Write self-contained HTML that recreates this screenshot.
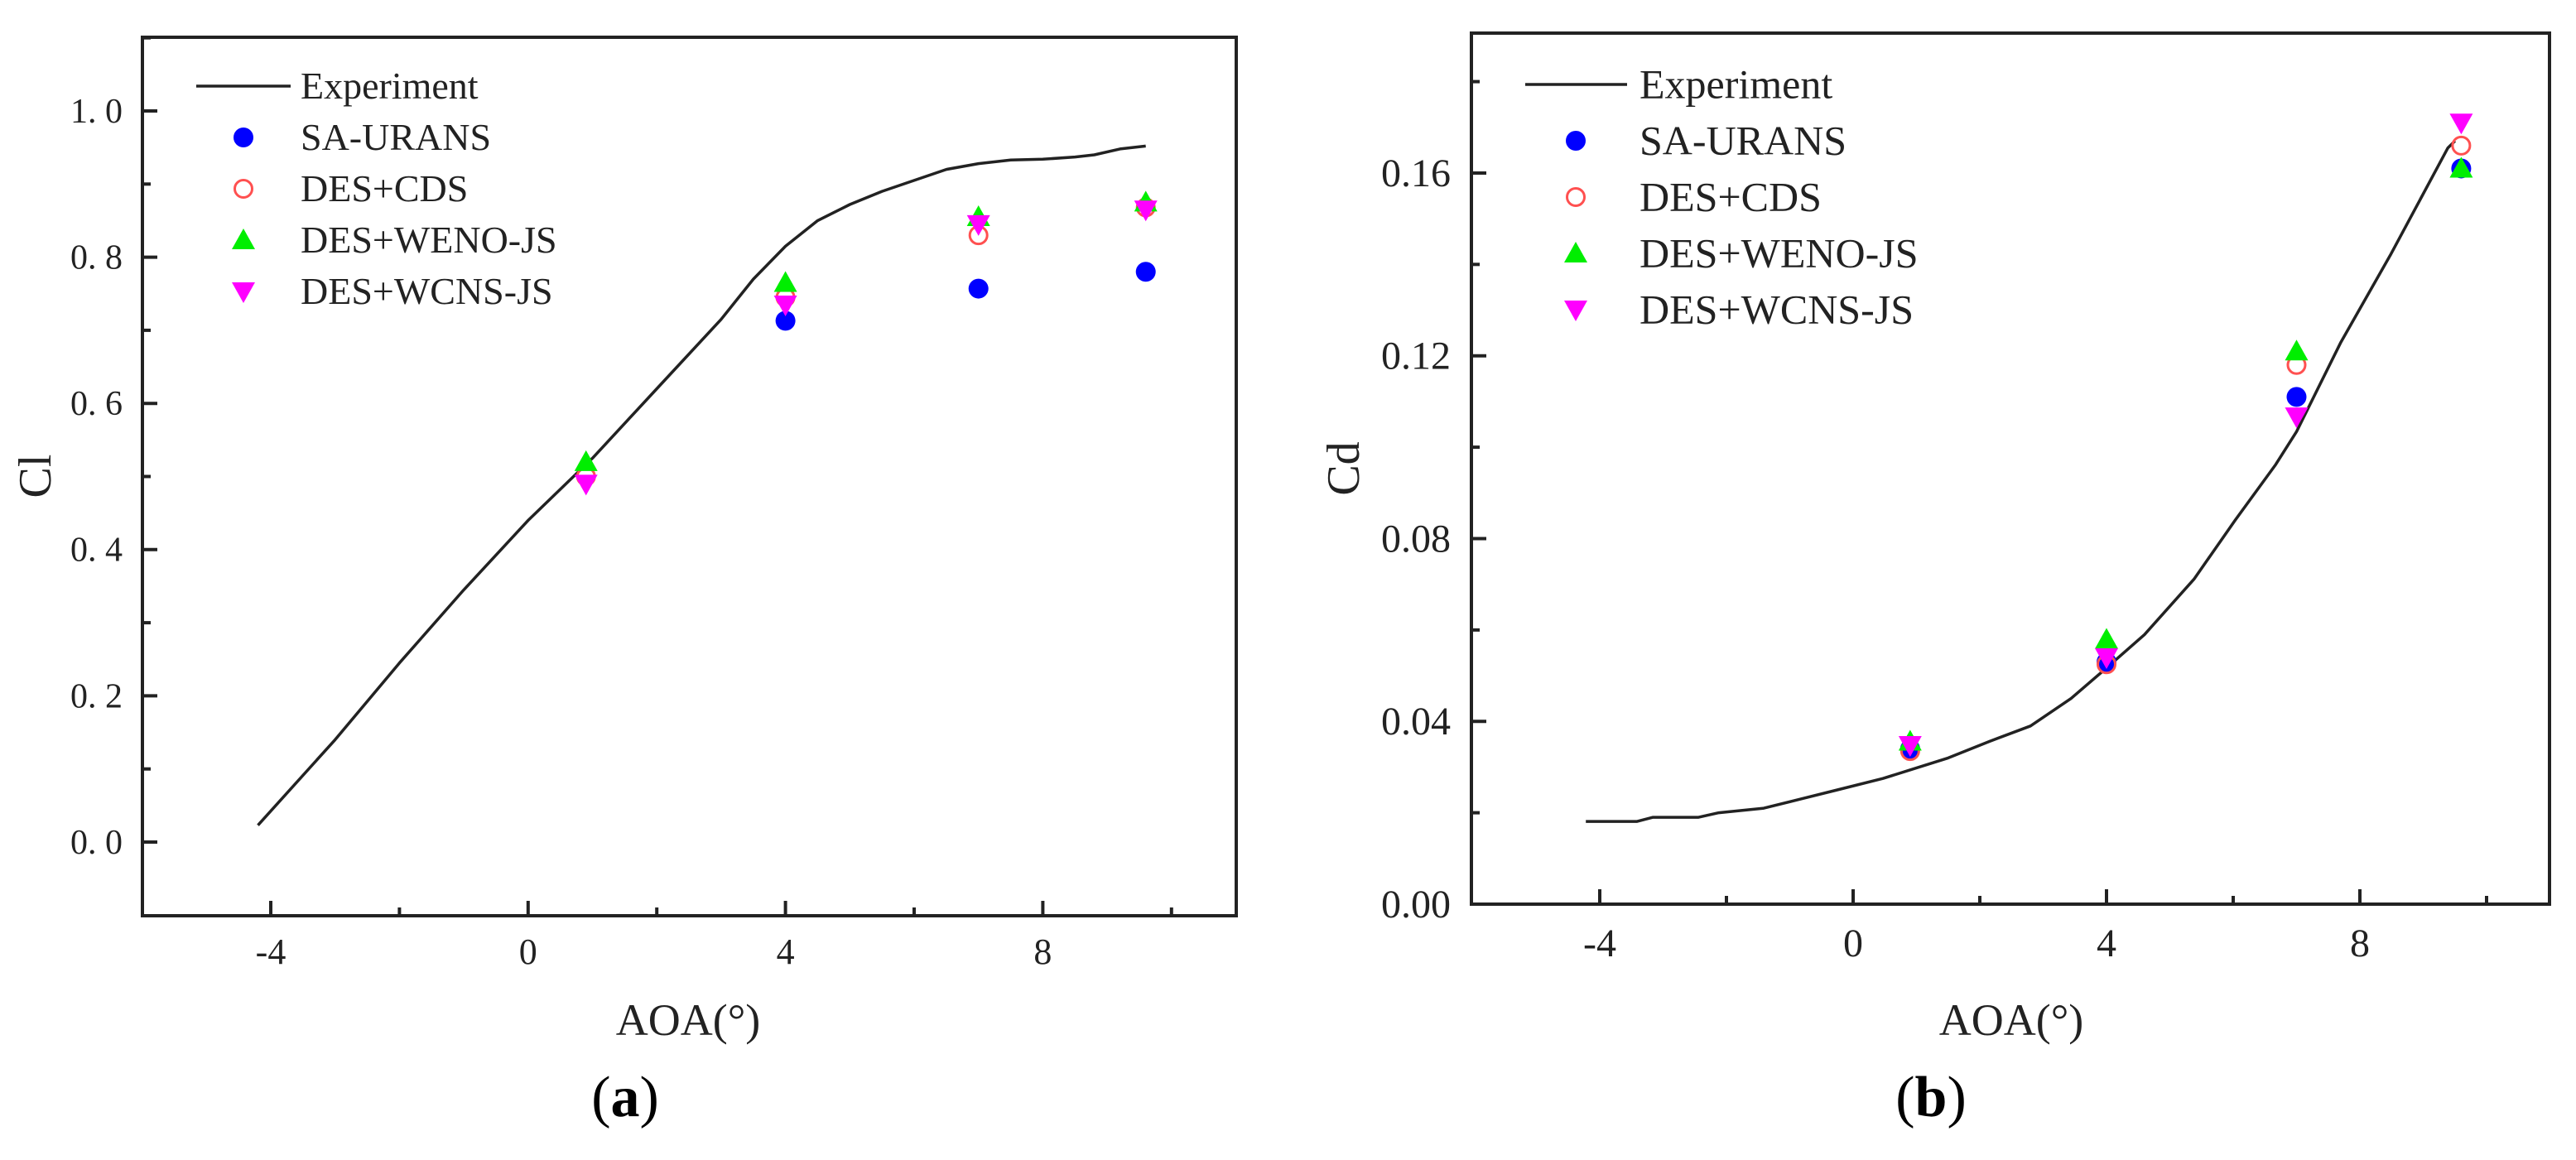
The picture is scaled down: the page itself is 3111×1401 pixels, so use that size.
<!DOCTYPE html>
<html><head><meta charset="utf-8">
<style>
html,body{margin:0;padding:0;background:#fff;}
svg{display:block;font-family:"Liberation Serif","DejaVu Serif",serif;}
</style></head>
<body>
<svg id="fig" width="3111" height="1401" viewBox="0 0 3111 1401" xmlns="http://www.w3.org/2000/svg">
<rect width="3111" height="1401" fill="#fff"/>
<g id="chartA"></g>
<g id="chartB"></g>
</svg>
<script>
// ---- Chart (a): Cl data ----
const clExpAoa = [-4.2,-3,-2,-1,0,1,2,3,3.5,4,4.5,5,5.5,6,6.5,7,7.5,8,8.5,8.8,9.2,9.6];
const clExpVal = [0.023,0.14,0.245,0.345,0.44,0.525,0.62,0.715,0.77,0.815,0.85,0.872,0.89,0.905,0.92,0.928,0.933,0.934,0.937,0.94,0.948,0.952];
const clSaAoa = [4,7,9.6];
const clSaVal = [0.713,0.757,0.78];
const clCdsAoa = [0.9,4,7,9.6];
const clCdsVal = [0.50,0.745,0.83,0.868];
const clWenoAoa = [0.9,4,7,9.6];
const clWenoVal = [0.52,0.765,0.855,0.875];
const clWcnsAoa = [0.9,4,7,9.6];
const clWcnsVal = [0.49,0.735,0.845,0.865];
const clYTicks = [0,0.2,0.4,0.6,0.8,1.0];
const clYLabels = ["0. 0","0. 2","0. 4","0. 6","0. 8","1. 0"];
const clXTicks = [-4,0,4,8];
const clXLabels = ["-4","0","4","8"];

// ---- Chart (b): Cd data ----
const cdExpAoa = [-4.22,-3.41,-3.16,-2.44,-2.12,-1.41,-0.83,-0.25,0.47,1.5,2.15,2.8,3.44,4.0,4.6,5.38,6.03,6.67,7.0,7.7,8.48,9.39,9.5];
const cdExpVal = [0.0181,0.0181,0.019,0.019,0.020,0.021,0.023,0.025,0.0275,0.032,0.0356,0.039,0.045,0.0517,0.059,0.0711,0.084,0.0962,0.1034,0.123,0.142,0.1655,0.167];
const cdSaAoa = [0.9,4,7,9.6];
const cdSaVal = [0.034,0.053,0.111,0.161];
const cdCdsAoa = [0.9,4,7,9.6];
const cdCdsVal = [0.0335,0.0525,0.118,0.166];
const cdWenoAoa = [0.9,4,7,9.6];
const cdWenoVal = [0.0356,0.0579,0.121,0.161];
const cdWcnsAoa = [0.9,4,7,9.6];
const cdWcnsVal = [0.0348,0.054,0.1067,0.171];
const cdYTicks = [0,0.04,0.08,0.12,0.16];
const cdYLabels = ["0.00","0.04","0.08","0.12","0.16"];
const cdXTicks = [-4,0,4,8];
const cdXLabels = ["-4","0","4","8"];

const NS="http://www.w3.org/2000/svg";
function mk(tag, attrs, parent){
  const e=document.createElementNS(NS,tag);
  for(const k in attrs) e.setAttribute(k,attrs[k]);
  parent.appendChild(e); return e;
}
function marker(g, type, cx, cy){
  let e;
  if(type==='sa'){ e=mk('circle',{cx:cx,cy:cy,r:12,fill:'#0000ff'},g); }
  else if(type==='cds'){ e=mk('circle',{cx:cx,cy:cy,r:10.5,fill:'none',stroke:'#ff5050','stroke-width':3},g); }
  else if(type==='weno'){ e=mk('polygon',{points:`${cx-14},${cy+11} ${cx+14},${cy+11} ${cx},${cy-14}`,fill:'#00ee00'},g); }
  else { e=mk('polygon',{points:`${cx-14},${cy-11} ${cx+14},${cy-11} ${cx},${cy+14}`,fill:'#ff00ff'},g); }
  return e;
}

function drawChart(g, cfg){
  const X=v=>cfg.x0+(v-cfg.xmin)*(cfg.x1-cfg.x0)/(cfg.xmax-cfg.xmin);
  const Y=v=>cfg.y0-(v-cfg.ymin)*(cfg.y0-cfg.y1)/(cfg.ymax-cfg.ymin);
  const fr=mk('rect',{x:cfg.x0,y:cfg.y1,width:cfg.x1-cfg.x0,height:cfg.y0-cfg.y1,fill:'none',stroke:'#222','stroke-width':4},g);
  
  
  cfg.yTicks.forEach((t,i)=>{
    const y=Y(t);
    const tk=mk('line',{x1:cfg.x0,x2:cfg.x0+18,y1:y,y2:y,stroke:'#222','stroke-width':4},g);
    
    
    const lb=mk('text',{x:cfg.yLabelX,y:y+cfg.yFont*0.33,'text-anchor':'end','font-size':cfg.yFont,fill:'#222'},g);
    lb.textContent=cfg.yLabels[i];
    
    
    const m=t+cfg.yStep/2;
    if(m<cfg.ymax){
      const ym=Y(m);
      const mt=mk('line',{x1:cfg.x0,x2:cfg.x0+10,y1:ym,y2:ym,stroke:'#222','stroke-width':4},g);
      
      
    }
  });
  cfg.xTicks.forEach((t,i)=>{
    const x=X(t);
    const tk=mk('line',{x1:x,x2:x,y1:cfg.y0,y2:cfg.y0-18,stroke:'#222','stroke-width':4},g);
    
    
    const lb=mk('text',{x:x,y:cfg.xLabelY,'text-anchor':'middle','font-size':cfg.xFont,fill:'#222'},g);
    lb.textContent=cfg.xLabels[i];
    
    
    const xm=X(t+2);
    if(t+2<cfg.xmax){
      const mt=mk('line',{x1:xm,x2:xm,y1:cfg.y0,y2:cfg.y0-10,stroke:'#222','stroke-width':4},g);
      
      
    }
  });
  const pts=cfg.expAoa.map((a,i)=>X(a).toFixed(1)+','+Y(cfg.expVal[i]).toFixed(1)).join(' ');
  const pl=mk('polyline',{points:pts,fill:'none',stroke:'#222','stroke-width':3.5,'stroke-linejoin':'round'},g);
  
  
  const series=[['sa',cfg.saAoa,cfg.saVal,'sa-urans-point'],['cds',cfg.cdsAoa,cfg.cdsVal,'des-cds-point'],['weno',cfg.wenoAoa,cfg.wenoVal,'des-weno-js-point'],['wcns',cfg.wcnsAoa,cfg.wcnsVal,'des-wcns-js-point']];
  series.forEach(s=>{
    s[1].forEach((a,i)=>{
      const e=marker(g,s[0],X(a),Y(s[2][i]));
      
      
    });
  });
  const L=cfg.leg;
  const ll=mk('line',{x1:L.lx0,x2:L.lx1,y1:L.y,y2:L.y,stroke:'#222','stroke-width':3.5},g);
  
  
  const names=['Experiment','SA-URANS','DES+CDS','DES+WENO-JS','DES+WCNS-JS'];
  const types=[null,'sa','cds','weno','wcns'];
  names.forEach((n,i)=>{
    const y=L.y+i*L.dy;
    if(types[i]){
      const m=marker(g,types[i],L.mx,y);
      
      
    }
    const t=mk('text',{x:L.tx,y:y+L.font*0.33,'font-size':L.font,fill:'#222'},g);
    t.textContent=n;
    
    
  });
  const xt=mk('text',{x:cfg.xTitleX,y:1250,'text-anchor':'middle','font-size':54,fill:'#222'},g);
  xt.textContent='AOA(°)';
  
  
  const yt=mk('text',{x:0,y:0,'text-anchor':'middle','font-size':56,fill:'#222',transform:`translate(${cfg.yTitleX+19},${cfg.yTitleY}) rotate(-90)`},g);
  yt.textContent=cfg.yTitle;
  
  
  const pt=mk('text',{x:cfg.panelX,y:1348,'text-anchor':'middle','font-size':70,fill:'#000'},g);
  const p1=mk('tspan',{},pt); p1.textContent='(';
  const p2=mk('tspan',{'font-weight':'bold'},pt); p2.textContent=cfg.panel;
  const p3=mk('tspan',{},pt); p3.textContent=')';
  
  
}

drawChart(document.getElementById('chartA'),{
  x0:172,x1:1493,y0:1106,y1:45,
  xmin:-4-(327-172)/77.7, xmax:-4+(1493-327)/77.7,
  ymin:-(1106-1017)/883, ymax:(1017-45)/883, yStep:0.2,
  yTicks:clYTicks,yLabels:clYLabels,xTicks:clXTicks,xLabels:clXLabels,
  yLabelX:148,yFont:42,xLabelY:1164,xFont:44,
  expAoa:clExpAoa,expVal:clExpVal,saAoa:clSaAoa,saVal:clSaVal,cdsAoa:clCdsAoa,cdsVal:clCdsVal,
  wenoAoa:clWenoAoa,wenoVal:clWenoVal,wcnsAoa:clWcnsAoa,wcnsVal:clWcnsVal,
  leg:{lx0:237,lx1:351,y:104,dy:62,mx:294,tx:363,font:46},
  xTitleX:831,yTitleX:42,yTitleY:575,yTitle:'Cl',panelX:755,panel:'a'
});
drawChart(document.getElementById('chartB'),{
  x0:1777,x1:3079,y0:1092,y1:40,
  xmin:-4-(1932-1777)/76.5, xmax:-4+(3079-1932)/76.5,
  ymin:0, ymax:(1092-40)/5519, yStep:0.04,
  yTicks:cdYTicks,yLabels:cdYLabels,xTicks:cdXTicks,xLabels:cdXLabels,
  yLabelX:1752,yFont:48,xLabelY:1155,xFont:48,
  expAoa:cdExpAoa,expVal:cdExpVal,saAoa:cdSaAoa,saVal:cdSaVal,cdsAoa:cdCdsAoa,cdsVal:cdCdsVal,
  wenoAoa:cdWenoAoa,wenoVal:cdWenoVal,wcnsAoa:cdWcnsAoa,wcnsVal:cdWcnsVal,
  leg:{lx0:1842,lx1:1965,y:102,dy:68,mx:1903,tx:1980,font:50},
  xTitleX:2429,yTitleX:1622,yTitleY:566,yTitle:'Cd',panelX:2332,panel:'b'
});
</script>
</body></html>
